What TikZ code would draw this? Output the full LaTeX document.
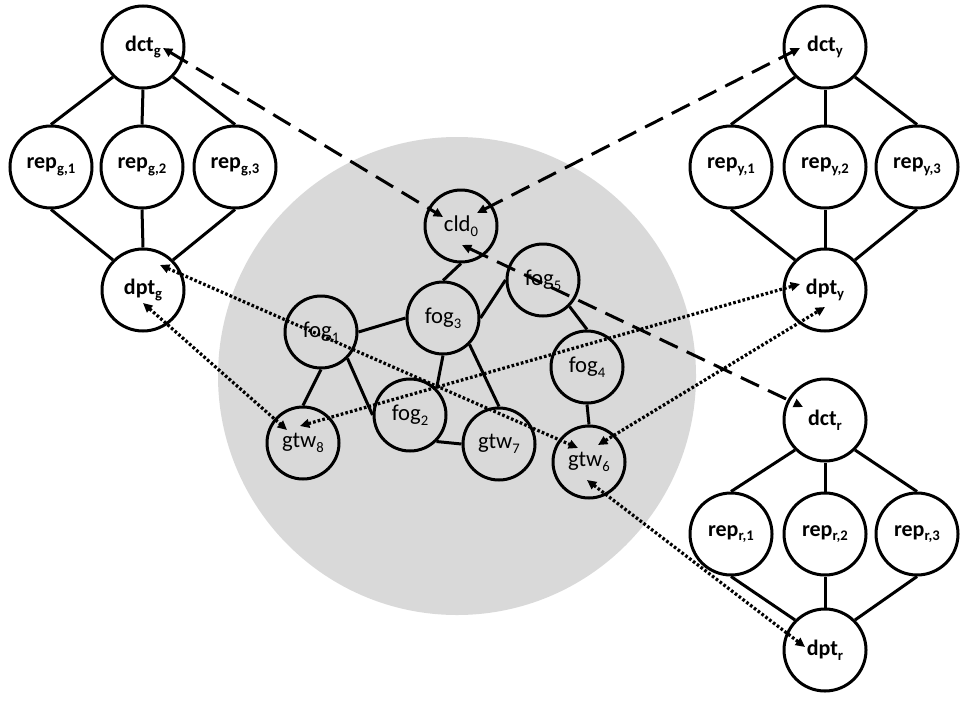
\documentclass[tikz,border=0pt]{standalone}
\usepackage{fontspec}
\setmainfont{Carlito}
\usetikzlibrary{arrows.meta,calc}
\newcommand\sbs[1]{\raisebox{-0.45ex}{\fontsize{11pt}{11pt}\selectfont #1}}
\begin{document}
\begin{tikzpicture}[x=0.75pt,y=-0.75pt,
  big/.style={circle,draw,line width=2.25pt,minimum size=61.5pt,inner sep=0pt,font=\fontsize{16.5pt}{16.5pt}\selectfont\bfseries},
  small/.style={circle,draw,line width=2.25pt,minimum size=54pt,inner sep=0pt,font=\fontsize{17pt}{17pt}\selectfont},
  link/.style={line width=2.25pt},
  dasharrow/.style={line width=2.25pt,dash pattern=on 15pt off 7.5pt,{Triangle[length=7pt,width=6.5pt]}-{Triangle[length=7pt,width=6.5pt]}},
  dotarrow/.style={line width=2.4pt,dash pattern=on 2pt off 1.6pt,{Triangle[length=7pt,width=6.5pt]}-{Triangle[length=7pt,width=6.5pt]}}
]
\definecolor{cloudgray}{RGB}{217,217,217}
\useasboundingbox (0,0) rectangle (969,710);
\fill[cloudgray] (457,376) circle[radius=239];

% left group g
\node[big] (dctg) at (143,47) {dct\sbs{g}};
\node[big] (repg1) at (51,167) {rep\sbs{g,1}};
\node[big] (repg2) at (142,167) {rep\sbs{g,2}};
\node[big] (repg3) at (235,167) {rep\sbs{g,3}};
\node[big] (dptg) at (143,290) {dpt\sbs{g}};
% right group y
\node[big] (dcty) at (825,47) {dct\sbs{y}};
\node[big] (repy1) at (731,167) {rep\sbs{y,1}};
\node[big] (repy2) at (825,167) {rep\sbs{y,2}};
\node[big] (repy3) at (917,167) {rep\sbs{y,3}};
\node[big] (dpty) at (825,290) {dpt\sbs{y}};
% right group r
\node[big] (dctr) at (825,420) {dct\sbs{r}};
\node[big] (repr1) at (731,534) {rep\sbs{r,1}};
\node[big] (repr2) at (825,534) {rep\sbs{r,2}};
\node[big] (repr3) at (917,534) {rep\sbs{r,3}};
\node[big] (dptr) at (825,650) {dpt\sbs{r}};

\foreach \g in {g,y,r}{
  \draw[link] (dct\g.south west) -- (rep\g1.north);
  \draw[link] (dct\g.south) -- (rep\g2.north);
  \draw[link] (dct\g.south east) -- (rep\g3.north);
  \draw[link] (rep\g1.south) -- (dpt\g.north west);
  \draw[link] (rep\g2.south) -- (dpt\g.north);
  \draw[link] (rep\g3.south) -- (dpt\g.north east);
}

% middle
\node[small] (cld0) at (461,226) {cld\sbs{0}};
\node[small] (fog5) at (543,280) {fog\sbs{5}};
\node[small] (fog3) at (443,318) {fog\sbs{3}};
\node[small] (fog1) at (321,332) {fog\sbs{1}};
\node[small] (fog4) at (587,367) {fog\sbs{4}};
\node[small] (fog2) at (410,415) {fog\sbs{2}};
\node[small] (gtw7) at (499,444) {gtw\sbs{7}};
\node[small] (gtw8) at (303,443) {gtw\sbs{8}};
\node[small] (gtw6) at (589,462) {gtw\sbs{6}};

\draw[link] (cld0.south) -- (fog3.north);
\draw[link] (fog1.east) -- (fog3.west);
\draw[link] (fog3.east) -- (fog5.west);
\draw[link] (fog5.south east) -- (fog4.north);
\draw[link] (fog4.south) -- (gtw6.north);
\draw[link] (fog1.south) -- (gtw8.north);
\draw[link] (fog1.south east) -- (fog2.west);
\draw[link] (fog3.south) -- (fog2.north east);
\draw[link] (fog3.south east) -- (gtw7.north);
\draw[link] (fog2.south east) -- (gtw7.west);

% arrow end points
\path (dctg) ++(20,1) coordinate (a1);
\path (cld0) ++(-18,-9) coordinate (a2);
\path (cld0) ++(16,-13) coordinate (b1);
\path (dcty) ++(-25,1) coordinate (b2);
\path (cld0) ++(1,19) coordinate (c1);
\path (dctr) ++(-22,-13) coordinate (c2);
\path (dptg) ++(17,-25) coordinate (d1);
\path (gtw6) ++(-11,-14) coordinate (d2);
\path (dptg) ++(0,13) coordinate (e1);
\path (gtw8) ++(-16,-13) coordinate (e2);
\path (gtw8) ++(-3,-17) coordinate (f1);
\path (dpty) ++(-25,-6) coordinate (f2);
\path (gtw6) ++(9,-17) coordinate (g1);
\path (dpty) ++(0,17) coordinate (g2);
\path (gtw6) ++(-2,18) coordinate (h1);
\path (dptr) ++(-20,-3) coordinate (h2);

\draw[dasharrow] (a1) -- (a2);
\draw[dasharrow] (b1) -- (b2);
\draw[dasharrow] (c1) -- (c2);
\draw[dotarrow] (d1) -- (d2);
\draw[dotarrow] (e1) -- (e2);
\draw[dotarrow] (f1) -- (f2);
\draw[dotarrow] (g1) -- (g2);
\draw[dotarrow] (h1) -- (h2);
\end{tikzpicture}
\end{document}
